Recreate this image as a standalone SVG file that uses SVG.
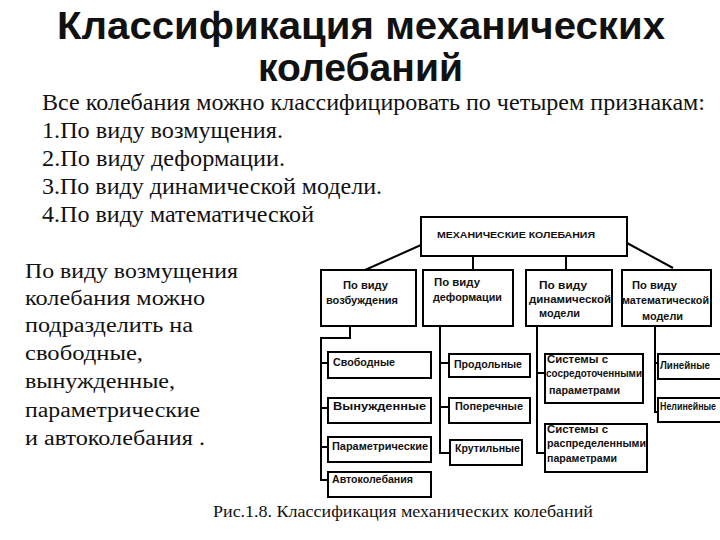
<svg xmlns="http://www.w3.org/2000/svg" width="720" height="540" viewBox="0 0 720 540">
<style>
.bg{fill:#fff}
.box{fill:#fff;stroke:#000;stroke-width:2}
.con{fill:none;stroke:#000;stroke-width:2}
.title{font-family:"Liberation Sans",Arial,sans-serif;font-weight:bold;font-size:39px;fill:#111}
.serif{font-family:"Liberation Serif","Times New Roman",serif;fill:#111}
.lbl{font-family:"Liberation Sans",Arial,sans-serif;font-weight:bold;font-size:10px;fill:#111}
.top{font-family:"Liberation Sans",Arial,sans-serif;font-weight:bold;font-size:9px;fill:#111}
</style>
<rect class="bg" x="0" y="0" width="720" height="540"/>

<g id="title">
<text class="title" x="57" y="39" textLength="608" lengthAdjust="spacingAndGlyphs">Классификация механических</text>
<text class="title" x="258" y="81" textLength="205" lengthAdjust="spacingAndGlyphs">колебаний</text>
</g>

<g id="intro">
<text class="serif" font-size="24" x="42" y="110" textLength="663" lengthAdjust="spacingAndGlyphs">Все колебания можно классифицировать по четырем признакам:</text>
<text class="serif" font-size="24" x="42" y="138" textLength="241" lengthAdjust="spacingAndGlyphs">1.По виду возмущения.</text>
<text class="serif" font-size="24" x="42" y="166" textLength="243" lengthAdjust="spacingAndGlyphs">2.По виду деформации.</text>
<text class="serif" font-size="24" x="42" y="194" textLength="340" lengthAdjust="spacingAndGlyphs">3.По виду динамической модели.</text>
<text class="serif" font-size="24" x="42" y="222" textLength="272" lengthAdjust="spacingAndGlyphs">4.По виду математической</text>
</g>

<g id="side-text">
<text class="serif" font-size="20" x="25" y="278" textLength="213" lengthAdjust="spacingAndGlyphs">По виду возмущения</text>
<text class="serif" font-size="20" x="25" y="305" textLength="180" lengthAdjust="spacingAndGlyphs">колебания можно</text>
<text class="serif" font-size="20" x="25" y="332" textLength="168" lengthAdjust="spacingAndGlyphs">подразделить на</text>
<text class="serif" font-size="20" x="25" y="360" textLength="118" lengthAdjust="spacingAndGlyphs">свободные,</text>
<text class="serif" font-size="20" x="25" y="388" textLength="150" lengthAdjust="spacingAndGlyphs">вынужденные,</text>
<text class="serif" font-size="20" x="25" y="417" textLength="175" lengthAdjust="spacingAndGlyphs">параметрические</text>
<text class="serif" font-size="20" x="25" y="445" textLength="180" lengthAdjust="spacingAndGlyphs">и автоколебания .</text>
</g>

<g id="connectors">
<path class="con" d="M421,245 L365,270"/>
<path class="con" d="M627,243 L673,268"/>
<path class="con" d="M473,256 V270"/>
<path class="con" d="M566,256 V270"/>
<path class="con" d="M350,326 V338 H321 V480 H328"/>
<path class="con" d="M321,363 H328 M321,408 H328 M321,447 H328"/>
<path class="con" d="M440,326 V453 H450"/>
<path class="con" d="M440,363 H449 M440,407 H449"/>
<path class="con" d="M537,326 V453 H545"/>
<path class="con" d="M537,373 H545"/>
<path class="con" d="M655,326 V412 H658"/>
<path class="con" d="M655,363 H658"/>
</g>

<g id="root">
<rect class="box" x="421" y="217" width="206" height="39"/>
<text class="top" x="437" y="238" textLength="158" lengthAdjust="spacingAndGlyphs">МЕХАНИЧЕСКИЕ КОЛЕБАНИЯ</text>
</g>

<g id="n-excitation">
<rect class="box" x="321" y="270" width="95" height="56"/>
<text class="lbl" x="343" y="289" textLength="45" lengthAdjust="spacingAndGlyphs">По виду</text>
<text class="lbl" x="326" y="304" textLength="72" lengthAdjust="spacingAndGlyphs">возбуждения</text>
</g>
<g id="n-deformation">
<rect class="box" x="423" y="270" width="90" height="56"/>
<text class="lbl" x="434" y="286" textLength="46" lengthAdjust="spacingAndGlyphs">По виду</text>
<text class="lbl" x="433" y="301" textLength="69" lengthAdjust="spacingAndGlyphs">деформации</text>
</g>
<g id="n-dynamic">
<rect class="box" x="526" y="270" width="86" height="56"/>
<text class="lbl" x="539" y="289" textLength="48" lengthAdjust="spacingAndGlyphs">По виду</text>
<text class="lbl" x="529" y="303" textLength="82" lengthAdjust="spacingAndGlyphs">динамической</text>
<text class="lbl" x="539" y="317" textLength="41" lengthAdjust="spacingAndGlyphs">модели</text>
</g>
<g id="n-math">
<rect class="box" x="622" y="270" width="89" height="56"/>
<text class="lbl" x="632" y="289" textLength="45" lengthAdjust="spacingAndGlyphs">По виду</text>
<text class="lbl" x="622" y="304" textLength="87" lengthAdjust="spacingAndGlyphs">математической</text>
<text class="lbl" x="642" y="320" textLength="41" lengthAdjust="spacingAndGlyphs">модели</text>
</g>

<g id="n-free">
<rect class="box" x="328" y="352" width="103" height="26"/>
<text class="lbl" x="333" y="366" textLength="62" lengthAdjust="spacingAndGlyphs">Свободные</text>
</g>
<g id="n-forced">
<rect class="box" x="328" y="398" width="103" height="25"/>
<text class="lbl" x="333" y="410" textLength="93" lengthAdjust="spacingAndGlyphs">Вынужденные</text>
</g>
<g id="n-parametric">
<rect class="box" x="328" y="437" width="103" height="25"/>
<text class="lbl" x="332" y="450" textLength="96" lengthAdjust="spacingAndGlyphs">Параметрические</text>
</g>
<g id="n-auto">
<rect class="box" x="328" y="472" width="103" height="25"/>
<text class="lbl" x="332" y="483" textLength="81" lengthAdjust="spacingAndGlyphs">Автоколебания</text>
</g>

<g id="n-longitudinal">
<rect class="box" x="449" y="354" width="81" height="23"/>
<text class="lbl" x="454" y="368" textLength="68" lengthAdjust="spacingAndGlyphs">Продольные</text>
</g>
<g id="n-transverse">
<rect class="box" x="449" y="398" width="81" height="25"/>
<text class="lbl" x="455" y="410" textLength="68" lengthAdjust="spacingAndGlyphs">Поперечные</text>
</g>
<g id="n-torsional">
<rect class="box" x="450" y="440" width="72" height="25"/>
<text class="lbl" x="455" y="452" textLength="65" lengthAdjust="spacingAndGlyphs">Крутильные</text>
</g>

<g id="n-lumped">
<rect class="box" x="545" y="354" width="98" height="49"/>
<text class="lbl" x="547" y="363" textLength="61" lengthAdjust="spacingAndGlyphs">Системы с</text>
<text class="lbl" x="546" y="377" textLength="96" lengthAdjust="spacingAndGlyphs">сосредоточенными</text>
<text class="lbl" x="549" y="394" textLength="71" lengthAdjust="spacingAndGlyphs">параметрами</text>
</g>
<g id="n-distributed">
<rect class="box" x="545" y="424" width="102" height="48"/>
<text class="lbl" x="547" y="433" textLength="61" lengthAdjust="spacingAndGlyphs">Системы с</text>
<text class="lbl" x="547" y="447" textLength="99" lengthAdjust="spacingAndGlyphs">распределенными</text>
<text class="lbl" x="547" y="462" textLength="70" lengthAdjust="spacingAndGlyphs">параметрами</text>
</g>

<g id="n-linear">
<rect class="box" x="658" y="354" width="66" height="25"/>
<text class="lbl" x="660" y="369" textLength="50" lengthAdjust="spacingAndGlyphs">Линейные</text>
</g>
<g id="n-nonlinear">
<rect class="box" x="658" y="398" width="66" height="24"/>
<text class="lbl" font-size="9" x="660" y="410" textLength="56" lengthAdjust="spacingAndGlyphs">Нелинейные</text>
</g>

<g id="caption">
<text class="serif" font-size="16" x="213" y="517" textLength="380" lengthAdjust="spacingAndGlyphs">Рис.1.8. Классификация механических колебаний</text>
</g>
</svg>
